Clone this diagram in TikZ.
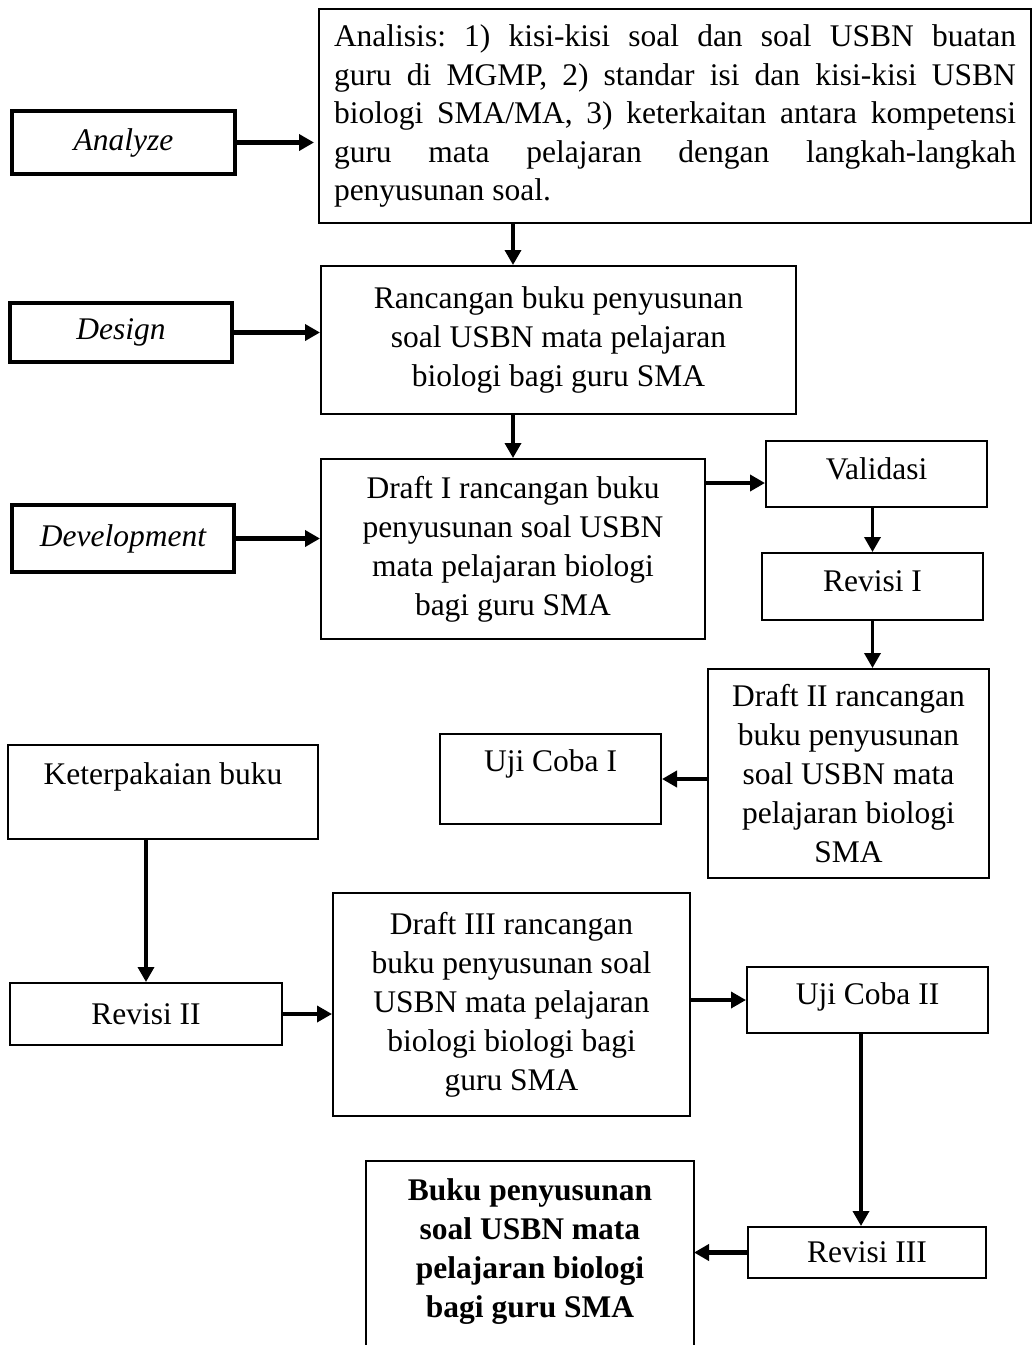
\documentclass[tikz,border=0pt]{standalone}
\usepackage{fontspec}
\setmainfont{Liberation Serif}
\usetikzlibrary{arrows.meta,calc}
\frenchspacing
\begin{document}
\begin{tikzpicture}[x=1pt,y=-1pt,
  box/.style={draw, line width=2pt, inner sep=0pt, align=center,
    font=\fontsize{31.5}{39}\selectfont},
  thickbox/.style={box, line width=4pt, font=\fontsize{31.5}{39}\selectfont\itshape},
  arr/.style={line width=3.5pt, -{Triangle[length=15pt,width=16pt]}},
  arrthick/.style={line width=4.5pt, -{Triangle[length=15pt,width=16pt]}}
]
\useasboundingbox (0,0) rectangle (1033,1345);

% left stage boxes
\node[thickbox, minimum width=223, minimum height=63] (analyze) at (123.5,142.5) {Analyze};
\node[thickbox, minimum width=222, minimum height=59] (design) at (121,332.5) {Design};
\node[thickbox, minimum width=222, minimum height=67] (devel) at (123,538.5) {Development};

% analysis box
\node[box, minimum width=712, minimum height=214, text width=682, align=justify,
  font=\fontsize{31.5}{38.5}\selectfont\frenchspacing] (analisis) at (675,116)
  {Analisis: 1) kisi-kisi soal dan soal USBN buatan\linebreak
   guru di MGMP, 2) standar isi dan kisi-kisi USBN\linebreak
   biologi SMA/MA, 3) keterkaitan antara kompetensi\linebreak
   guru mata pelajaran dengan langkah-langkah\linebreak
   penyusunan soal.};

\node[box, minimum width=475, minimum height=148] (ranc) at (558.5,340)
  {Rancangan buku penyusunan\\soal USBN mata pelajaran\\biologi bagi guru SMA};
\node[box, minimum width=384, minimum height=180] (draft1) at (513,549)
  {Draft I rancangan buku\\penyusunan soal USBN\\mata pelajaran biologi\\bagi guru SMA};
\node[box, minimum width=221, minimum height=66, text height=21pt, text depth=11pt] (valid) at (876.5,474) {Validasi};
\node[box, minimum width=221, minimum height=67, text height=21pt, text depth=11pt] (rev1) at (872.5,586.5) {Revisi I};
\node[box, minimum width=281, minimum height=209] (draft2) at (848.5,773.5)
  {Draft II rancangan\\buku penyusunan\\soal USBN mata\\pelajaran biologi\\SMA};
\node[box, minimum width=221, minimum height=90, text height=21pt, text depth=36pt] (uji1) at (550.5,779) {Uji Coba I};
\node[box, minimum width=310, minimum height=94, text height=21pt, text depth=36pt] (ket) at (163,792) {Keterpakaian buku};
\node[box, minimum width=272, minimum height=62] (rev2) at (146,1014) {Revisi II};
\node[box, minimum width=357, minimum height=223] (draft3) at (511.5,1004.5)
  {Draft III rancangan\\buku penyusunan soal\\USBN mata pelajaran\\biologi biologi bagi\\guru SMA};
\node[box, minimum width=241, minimum height=66, text height=21pt, text depth=13pt] (uji2) at (867.5,1000) {Uji Coba II};
\node[box, minimum width=238, minimum height=51] (rev3) at (867,1252.5) {Revisi III};
\node[box, draw=none, minimum width=326, minimum height=180, font=\fontsize{31.5}{39}\selectfont\bfseries] (buku) at (530,1252)
  {Buku penyusunan\\soal USBN mata\\pelajaran biologi\\bagi guru SMA};
\draw[line width=2pt] ([yshift=-20pt]buku.south west) -- (buku.north west) -- (buku.north east) -- ([yshift=-20pt]buku.south east);

\coordinate (c) at (861,0);
\coordinate (vin) at ([yshift=-9pt]valid.west);

% connectors
\draw[arrthick] (analyze.east) -- ([xshift=-4pt]analyze.east -| analisis.west);
\draw[arr] (analisis.south -| draft1) -- (ranc.north -| draft1);
\draw[arrthick] (design.east) -- (design.east -| ranc.west);
\draw[arr] (ranc.south -| draft1) -- (draft1.north);
\draw[arrthick] (devel.east) -- (devel.east -| draft1.west);
\draw[arrthick] (draft1.east |- vin) -- (vin);
\draw[arr] (valid.south -| rev1) -- (rev1.north);
\draw[arr] (rev1.south) -- (rev1.south |- draft2.north);
\draw[arrthick] (draft2.west |- uji1) -- (uji1.east);
\draw[arr] (ket.south -| rev2) -- (rev2.north);
\draw[arr] (rev2.east) -- (rev2.east -| draft3.west);
\draw[arr] (draft3.east |- uji2) -- (uji2.west);
\draw[arr] (uji2.south -| c) -- (rev3.north -| c);
\draw[arrthick] (rev3.west) -- (rev3.west -| buku.east);
\end{tikzpicture}
\end{document}
